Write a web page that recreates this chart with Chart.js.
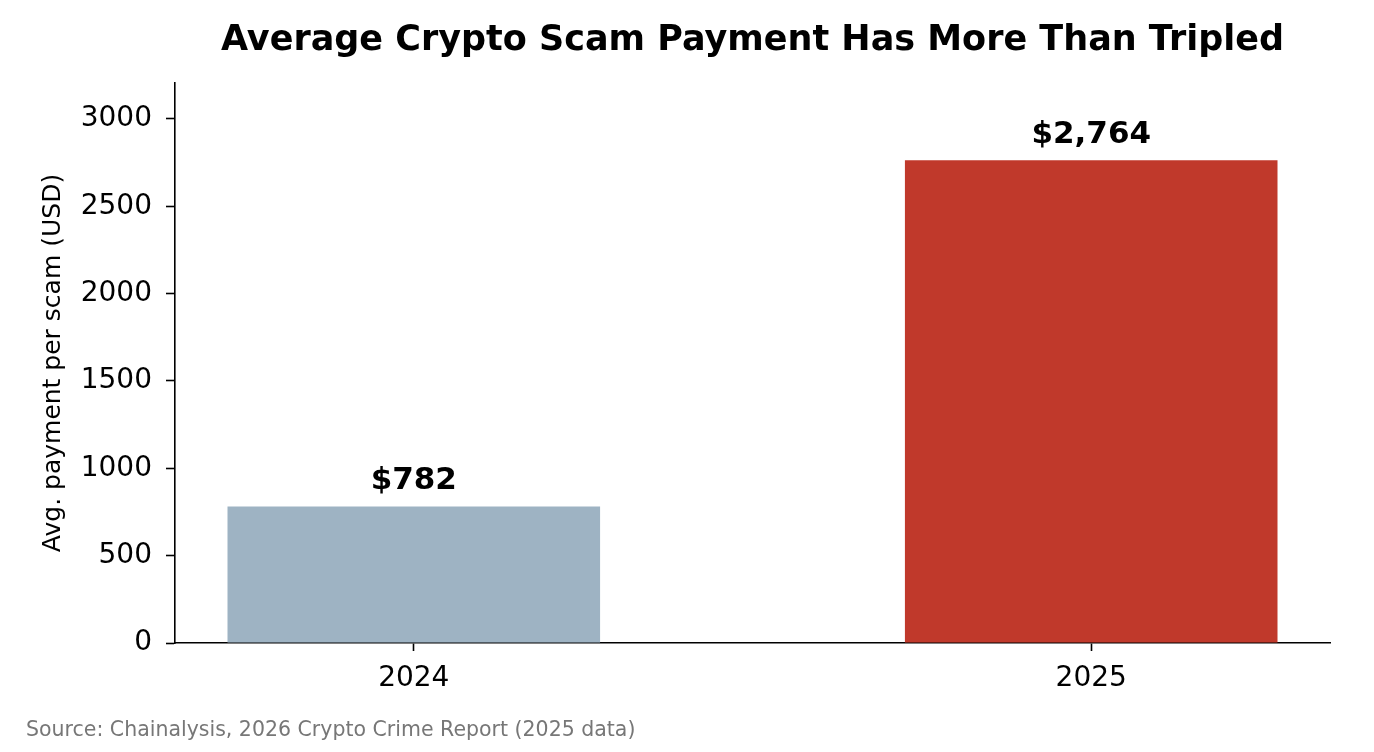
<!DOCTYPE html>
<html>
<head>
<meta charset="utf-8">
<script src="https://cdn.jsdelivr.net/npm/chart.js@4.4.1/dist/chart.umd.min.js"></script>
<style>
  html, body { margin: 0; padding: 0; background: #fff; }
  #wrap { width: 1374px; height: 752px; }
</style>
</head>
<body>
<div id="wrap"><canvas id="chart" width="1374" height="752"></canvas></div>
<script>
// =======================
// DATA
// =======================
const years = ['2024', '2025'];
const avgPayment = [782, 2764];
const barColors = ['#9eb3c3', '#c0392b'];
const yTicks = [0, 500, 1000, 1500, 2000, 2500, 3000];

const titleText = 'Average Crypto Scam Payment Has More Than Tripled';
const yAxisLabel = 'Avg. payment per scam (USD)';
const sourceText = 'Source: Chainalysis, 2026 Crypto Crime Report (2025 data)';

const FONT = "'DejaVu Sans', sans-serif";

// =======================
// PLUGINS
// =======================
const valueLabels = {
    id: 'valueLabels',
    afterDatasetsDraw(chart) {
        const ctx = chart.ctx;
        const meta = chart.getDatasetMeta(0);
        ctx.save();
        ctx.font = 'bold 31px ' + FONT;
        ctx.fillStyle = '#000';
        ctx.textAlign = 'center';
        ctx.textBaseline = 'alphabetic';
        meta.data.forEach((bar, i) => {
            ctx.fillText('$' + avgPayment[i].toLocaleString('en-US'), bar.x, bar.y - 17);
        });
        ctx.restore();
    }
};

const sourceNote = {
    id: 'sourceNote',
    afterDraw(chart) {
        const ctx = chart.ctx;
        ctx.save();
        ctx.font = '20.5px ' + FONT;
        ctx.fillStyle = '#777';
        ctx.textAlign = 'left';
        ctx.textBaseline = 'alphabetic';
        ctx.fillText(sourceText, 26, 736);
        ctx.restore();
    }
};

// =======================
// CHART
// =======================
const chart = new Chart(document.getElementById('chart'), {
    type: 'bar',
    data: {
        datasets: [{
            data: years.map((y, i) => ({ x: i, y: avgPayment[i] })),
            backgroundColor: barColors,
            borderWidth: 0,
            barPercentage: 0.55,
            categoryPercentage: 1
        }]
    },
    options: {
        responsive: false,
        animation: false,
        layout: { padding: { left: 0, right: 44, top: 0, bottom: 0 } },
        plugins: {
            legend: { display: false },
            tooltip: { enabled: false },
            title: {
                display: true,
                text: titleText,
                fullSize: false,
                color: '#000',
                font: { family: FONT, size: 35, weight: 'bold' },
                padding: { top: 20, bottom: 21 }
            }
        },
        scales: {
            x: {
                type: 'linear',
                min: -0.3525,
                max: 1.3525,
                offset: false,
                afterBuildTicks: (s) => { s.ticks = years.map((y, i) => ({ value: i })); },
                afterFit: (s) => { s.height = 109; },
                ticks: {
                    callback: (v) => years[v],
                    color: '#000',
                    font: { family: FONT, size: 28 },
                    padding: 11,
                    maxRotation: 0
                },
                grid: { offset: false, drawOnChartArea: false, drawTicks: true, tickLength: 8, color: '#000', tickWidth: 1.6 },
                border: { color: '#000', width: 1.6 }
            },
            y: {
                min: 0,
                max: 3206,
                afterBuildTicks: (s) => { s.ticks = yTicks.map(v => ({ value: v })); },
                afterFit: (s) => { s.width = 175; },
                ticks: {
                    callback: (v) => String(v),
                    color: '#000',
                    font: { family: FONT, size: 28 },
                    padding: 14
                },
                title: {
                    display: true,
                    text: yAxisLabel,
                    color: '#000',
                    font: { family: FONT, size: 25 },
                    padding: { top: 38, bottom: 0 }
                },
                grid: { drawOnChartArea: false, drawTicks: true, tickLength: 9, color: '#000', tickWidth: 1.6 },
                border: { color: '#000', width: 1.6 }
            }
        }
    },
    plugins: [valueLabels, sourceNote]
});
</script>
</body>
</html>
